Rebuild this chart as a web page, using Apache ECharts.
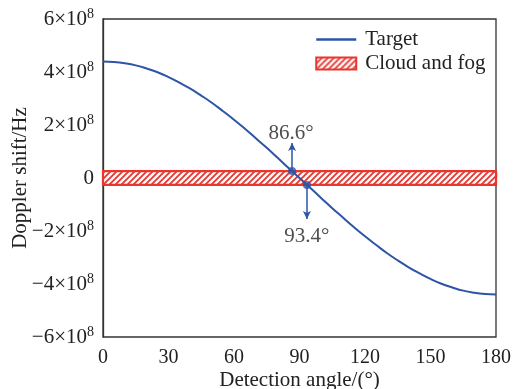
<!DOCTYPE html>
<html><head><meta charset="utf-8">
<script src="https://cdn.jsdelivr.net/npm/echarts@6/dist/echarts.min.js"></script>
<style>html,body{margin:0;padding:0;background:#fff}#c{width:516px;height:389px}</style>
</head><body><div id="c"></div>
<script>
// ---- data ----
const angles = [0,5,10,15,20,25,30,35,40,45,50,55,60,65,70,75,80,85,90,95,100,105,110,115,120,125,130,135,140,145,150,155,160,165,170,175,180];
const targetShift = [4.40e8,4.38e8,4.33e8,4.25e8,4.13e8,3.99e8,3.81e8,3.60e8,3.37e8,3.11e8,2.83e8,2.52e8,2.20e8,1.86e8,1.50e8,1.14e8,0.76e8,0.38e8,0,
  -0.38e8,-0.76e8,-1.14e8,-1.50e8,-1.86e8,-2.20e8,-2.52e8,-2.83e8,-3.11e8,-3.37e8,-3.60e8,-3.81e8,-3.99e8,-4.13e8,-4.25e8,-4.33e8,-4.38e8,-4.40e8];
const bandRange = [0, 180];
const bandLimits = [-2.6e7, 2.6e7];
const crossAngles = [86.6, 93.4];
const crossShifts = [2.6e7, -2.6e7];
const arrowEnds = [1.32e8, -1.55e8];
const crossLabels = ['86.6°', '93.4°'];
const xTicks = [0,30,60,90,120,150,180];
const yTicks = [-6e8,-4e8,-2e8,0,2e8,4e8,6e8];

// ---- styles ----
const BLUE = '#2d54a6', RED = '#e8352e', AX = '#333', TXT = '#222';
const FONT = 'Liberation Serif';

function hatch(){
  const c=document.createElement('canvas'); c.width=6; c.height=6;
  const g=c.getContext('2d'); g.fillStyle='#fff'; g.fillRect(0,0,6,6);
  g.strokeStyle=RED; g.lineWidth=1.8;
  g.beginPath(); g.moveTo(-1,7); g.lineTo(7,-1); g.moveTo(-1,1); g.lineTo(1,-1); g.moveTo(5,7); g.lineTo(7,5); g.stroke();
  return c;
}
const pattern = {image: hatch(), repeat: 'repeat'};

function yFmt(v){
  if (v === 0) return '{a|0}';
  const n = Math.abs(v)/1e8;
  return '{a|' + (v<0?'\u2212':'') + n + '×10}{s|8}';
}

const chart = echarts.init(document.getElementById('c'), null, {renderer:'canvas'});
const offsets = [[-1,-38],[0,52]];
chart.setOption({
  animation:false,
  textStyle:{fontFamily:FONT},
  grid:{left:103,right:20,top:19,bottom:52,containLabel:false,outerBoundsMode:'none',
    show:true,borderColor:AX,borderWidth:1.3,backgroundColor:'transparent'},
  legend:{
    orient:'vertical', left:310, top:24, itemWidth:40, itemHeight:12, itemGap:3,
    textStyle:{fontFamily:FONT,fontSize:21,color:TXT,padding:[0,0,0,4]},
    data:[
      {name:'Target', itemStyle:{color:'rgba(0,0,0,0)',borderWidth:0,opacity:0}, lineStyle:{color:BLUE,width:2.5}},
      {name:'Cloud and fog', icon:'rect', itemStyle:{color:pattern,borderColor:RED,borderWidth:2}}
    ]
  },
  xAxis:{
    type:'value', min:0, max:180, interval:30,
    name:'Detection angle/(°)', nameLocation:'middle', nameGap:33, nameMoveOverlap:false,
    nameTextStyle:{fontFamily:FONT,fontSize:21,color:TXT},
    axisLine:{lineStyle:{color:AX,width:1.3}},
    axisTick:{show:true,inside:true,length:5,lineStyle:{color:AX,width:1.3}},
    axisLabel:{fontFamily:FONT,fontSize:20,color:TXT,margin:11},
    splitLine:{show:false}
  },
  yAxis:{
    type:'value', min:-6e8, max:6e8, interval:2e8,
    name:'Doppler shift/Hz', nameLocation:'middle', nameGap:72, nameMoveOverlap:false,
    nameTextStyle:{fontFamily:FONT,fontSize:21,color:TXT},
    axisLine:{show:true,lineStyle:{color:AX,width:1.3}},
    axisTick:{show:false},
    axisLabel:{formatter:yFmt, margin:9, color:TXT, fontSize:21, fontFamily:FONT,
      rich:{a:{fontFamily:FONT,fontSize:21,color:TXT}, s:{fontFamily:FONT,fontSize:14,color:TXT,padding:[0,0,10,0]}}},
    splitLine:{show:false}
  },
  series:[
    {
      name:'Cloud and fog', type:'custom', z:2,
      itemStyle:{color:pattern,borderColor:RED},
      encode:{x:[0,1],y:[2,3]},
      data:[[bandRange[0],bandRange[1],bandLimits[0],bandLimits[1]]],
      renderItem:function(params,api){
        const p1=api.coord([api.value(0),api.value(3)]);
        const p2=api.coord([api.value(1),api.value(2)]);
        return {type:'rect',shape:{x:p1[0],y:p1[1],width:p2[0]-p1[0],height:p2[1]-p1[1]},
          style:{fill:pattern,stroke:RED,lineWidth:2.2}};
      }
    },
    {
      name:'Target', type:'line', smooth:true, symbol:'none', z:3,
      lineStyle:{color:BLUE,width:2}, itemStyle:{color:BLUE},
      data:angles.map((a,i)=>[a,targetShift[i]])
    },
    {
      name:'crossings', type:'scatter', symbolSize:8, z:4,
      itemStyle:{color:BLUE},
      data:crossAngles.map((a,i)=>({value:[a,crossShifts[i]],
        label:{show:true,position:'inside',offset:offsets[i],formatter:crossLabels[i],
          fontFamily:FONT,fontSize:21,color:TXT}})),
      markLine:{
        silent:true, symbol:['none','arrow'], symbolSize:[6,8],
        lineStyle:{color:BLUE,width:1.5,type:'solid'}, label:{show:false},
        data:crossAngles.map((a,i)=>[{coord:[a,crossShifts[i]]},{coord:[a,arrowEnds[i]]}])
      }
    }
  ]
});
</script></body></html>
